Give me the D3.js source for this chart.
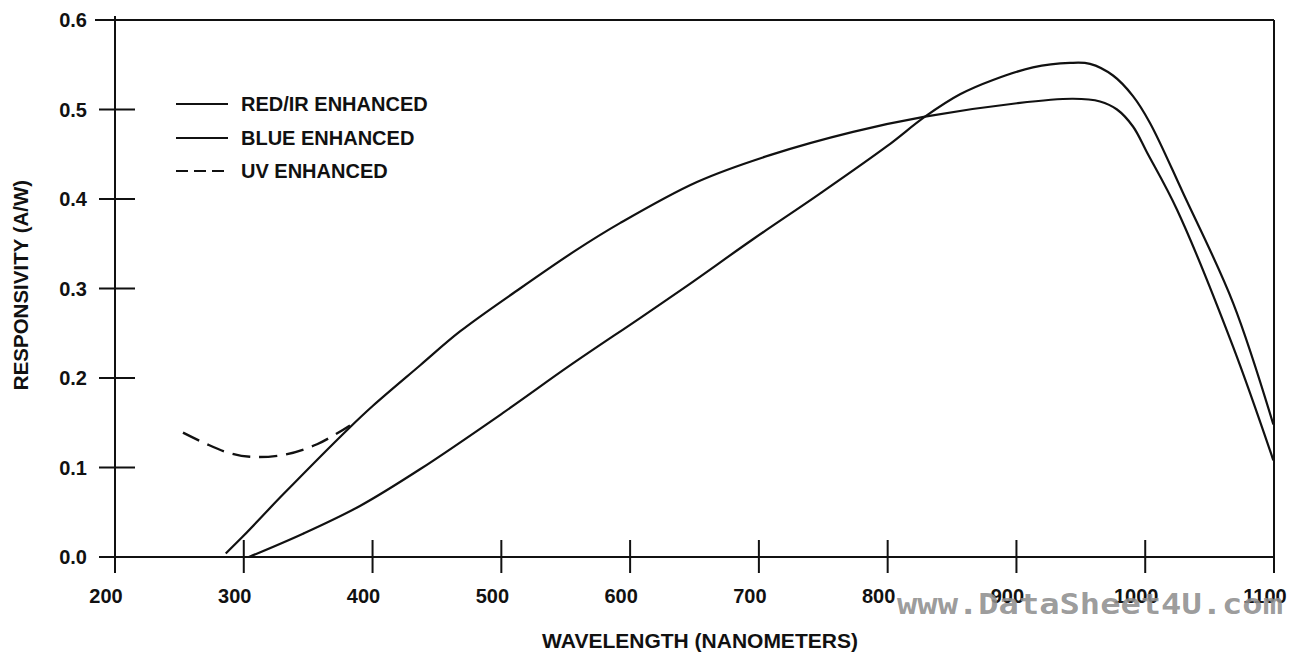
<!DOCTYPE html>
<html><head><meta charset="utf-8">
<script src="https://cdn.jsdelivr.net/npm/d3@7/dist/d3.min.js"></script>
<style>body{margin:0;background:#fff} svg{display:block}</style>
</head><body>
<svg id="c" width="1301" height="658"></svg>
<script>
// ---- data ----
const xTicks = [200, 300, 400, 500, 600, 700, 800, 900, 1000, 1100];
const xTickLabels = ["200", "300", "400", "500", "600", "700", "800", "900", "1000", "1100"];
const yTicks = [0, 0.1, 0.2, 0.3, 0.4, 0.5, 0.6];
const yTickLabels = ["0.0", "0.1", "0.2", "0.3", "0.4", "0.5", "0.6"];

const blueLambda = [286, 300, 330.6, 382.5, 400.3, 436.8, 467.9, 514.5, 557.2, 592.1, 651.9, 708.6, 773.1, 829, 900.4, 943.9, 964.9, 978.1, 990.5, 1001.4, 1024.7, 1068.2, 1099.5];
const blueResp   = [0.004, 0.024, 0.070, 0.145, 0.169, 0.214, 0.252, 0.300, 0.342, 0.373, 0.419, 0.449, 0.475, 0.492, 0.507, 0.512, 0.509, 0.500, 0.481, 0.452, 0.388, 0.235, 0.108];

const redLambda = [304, 346, 390.2, 436.8, 501.3, 553.3, 607.7, 644.2, 695.4, 747.4, 799.5, 829, 856.2, 881.8, 912.8, 941.6, 957.1, 975, 990.5, 1003.7, 1029.3, 1068.2, 1099.5];
const redResp   = [0.0, 0.026, 0.057, 0.098, 0.161, 0.214, 0.267, 0.303, 0.355, 0.406, 0.459, 0.492, 0.517, 0.533, 0.547, 0.552, 0.551, 0.538, 0.515, 0.485, 0.407, 0.284, 0.148];

const uvLambda = [252.8, 270, 287, 304.8, 330.5, 356.9, 382.5];
const uvResp   = [0.139, 0.127, 0.117, 0.112, 0.114, 0.126, 0.147];

const legendLabels = ["RED/IR ENHANCED", "BLUE ENHANCED", "UV ENHANCED"];
const xTitle = "WAVELENGTH (NANOMETERS)";
const yTitle = "RESPONSIVITY (A/W)";
const watermark = "www.DataSheet4U.com";

// ---- drawing ----
const svg = d3.select("#c");
const ink = "#111";
const font = "'Liberation Sans', Arial, Helvetica, sans-serif";
const x = d3.scaleLinear().domain([200, 1100]).range([115, 1274]);
const y = d3.scaleLinear().domain([0, 0.6]).range([557, 20]);

const g = svg.append("g");

// frame / axes
g.append("line").attr("x1", x(200) - 20).attr("x2", x(1100)).attr("y1", y(0.6)).attr("y2", y(0.6))
  .attr("stroke", ink).attr("stroke-width", 2);
g.append("line").attr("x1", x(1100)).attr("x2", x(1100)).attr("y1", y(0.6)).attr("y2", y(0) + 16)
  .attr("stroke", ink).attr("stroke-width", 2);
g.append("line").attr("x1", x(200)).attr("x2", x(200)).attr("y1", y(0.6) - 4).attr("y2", y(0) + 16)
  .attr("stroke", ink).attr("stroke-width", 2);
g.append("line").attr("x1", x(200) - 15).attr("x2", x(1100)).attr("y1", y(0)).attr("y2", y(0))
  .attr("stroke", ink).attr("stroke-width", 2);

// y ticks
g.selectAll(".yt").data(yTicks).join("line")
  .attr("x1", x(200) - 16).attr("x2", x(200) + 20)
  .attr("y1", d => y(d)).attr("y2", d => y(d))
  .attr("stroke", ink).attr("stroke-width", 2);
g.selectAll(".yl").data(yTicks).join("text")
  .attr("x", x(200) - 28).attr("y", d => y(d)).attr("dy", "0.36em")
  .attr("text-anchor", "end").attr("font-family", font).attr("font-weight", "bold")
  .attr("font-size", 20).attr("fill", ink)
  .text((d, i) => yTickLabels[i]);

// x ticks
g.selectAll(".xt").data(xTicks).join("line")
  .attr("x1", d => x(d)).attr("x2", d => x(d))
  .attr("y1", y(0) - 17).attr("y2", y(0) + 16)
  .attr("stroke", ink).attr("stroke-width", 2);

g.selectAll(".xl").data(xTicks).join("text")
  .attr("x", d => x(d) - 9).attr("y", 603)
  .attr("text-anchor", "middle").attr("font-family", font).attr("font-weight", "bold")
  .attr("font-size", 20).attr("fill", ink)
  .text((d, i) => xTickLabels[i]);

// watermark (scan overlay in the reference)
svg.append("text").attr("x", 897).attr("y", 614)
  .attr("font-family", "'DejaVu Sans Mono', monospace").attr("font-weight", "bold")
  .attr("font-size", 29).attr("fill", "#8f8f8f").attr("fill-opacity", 0.9)
  .attr("textLength", 386).attr("lengthAdjust", "spacingAndGlyphs")
  .text(watermark);

// titles
svg.append("text").attr("x", 700).attr("y", 648).attr("text-anchor", "middle")
  .attr("font-family", font).attr("font-weight", "bold").attr("font-size", 21).attr("fill", ink)
  .text(xTitle);
svg.append("text").attr("transform", "translate(28,285) rotate(-90)").attr("text-anchor", "middle")
  .attr("font-family", font).attr("font-weight", "bold").attr("font-size", 20.5).attr("fill", ink)
  .text(yTitle);

// curves
const line = d3.line().x(d => x(d[0])).y(d => y(d[1])).curve(d3.curveCatmullRom.alpha(0.5));
const zip = (a, b) => a.map((v, i) => [v, b[i]]);
g.append("path").datum(zip(blueLambda, blueResp)).attr("d", line)
  .attr("fill", "none").attr("stroke", ink).attr("stroke-width", 2.2).attr("stroke-linejoin", "round");
g.append("path").datum(zip(redLambda, redResp)).attr("d", line)
  .attr("fill", "none").attr("stroke", ink).attr("stroke-width", 2.2).attr("stroke-linejoin", "round");
g.append("path").datum(zip(uvLambda, uvResp)).attr("d", line)
  .attr("fill", "none").attr("stroke", ink).attr("stroke-width", 2.4)
  .attr("stroke-dasharray", "18,9");

// legend
const legY = [104, 138, 171];
const legDash = [null, null, "12,6"];
const legW = [2.2, 1.8, 2.2];
legendLabels.forEach((t, i) => {
  g.append("line").attr("x1", 176).attr("x2", 228).attr("y1", legY[i]).attr("y2", legY[i])
    .attr("stroke", ink).attr("stroke-width", legW[i]).attr("stroke-dasharray", legDash[i]);
  g.append("text").attr("x", 241).attr("y", legY[i]).attr("dy", "0.36em")
    .attr("font-family", font).attr("font-weight", "bold").attr("font-size", 20).attr("fill", ink)
    .text(t);
});
</script>
</body></html>
